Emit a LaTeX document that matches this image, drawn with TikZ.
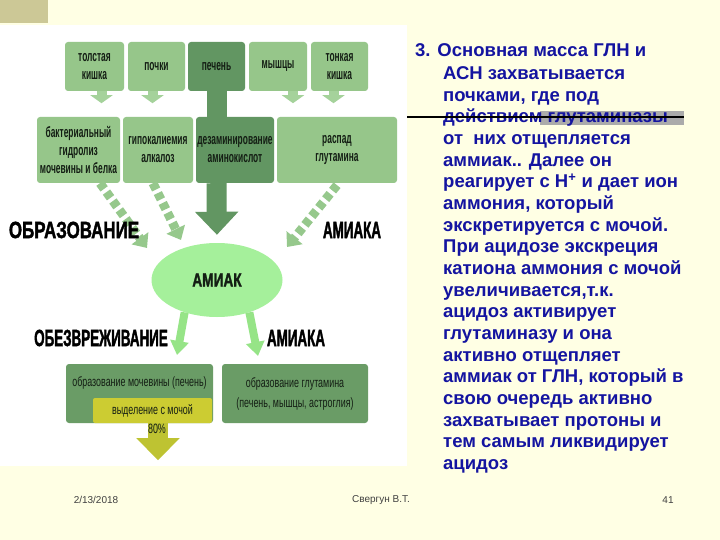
\documentclass[tikz,border=0pt]{standalone}
\usepackage{fontspec}
\setmainfont{Liberation Sans}
\newfontfamily\boxfont[FakeStretch=0.56]{Liberation Sans Bold}
\newfontfamily\lowfont[FakeStretch=0.66]{Liberation Sans}
\newfontfamily\headfont[FakeStretch=0.72,FakeBold=1.5]{Liberation Sans Bold}
\newfontfamily\headnarrow[FakeStretch=0.57,FakeBold=1.5]{Liberation Sans Bold}
\usetikzlibrary{arrows.meta,shapes.geometric}
\definecolor{slidebg}{RGB}{255,255,228}
\definecolor{tanc}{RGB}{204,200,150}
\definecolor{lightgrn}{RGB}{150,198,138}
\definecolor{darkgrn}{RGB}{98,150,98}
\definecolor{lowgrn}{RGB}{106,156,102}
\definecolor{arrgrn}{RGB}{165,210,155}
\definecolor{ellgrn}{RGB}{165,240,155}
\definecolor{downgrn}{RGB}{150,228,135}
\definecolor{stripegrn}{RGB}{150,200,140}
\definecolor{ybox}{RGB}{204,204,50}
\definecolor{yarr}{RGB}{190,195,50}
\definecolor{boxtext}{RGB}{20,30,20}
\definecolor{slideblue}{RGB}{20,20,160}
\tikzset{
  srcbox/.style={fill=lightgrn, rounded corners=3pt, align=center, inner sep=1pt,
    font=\boxfont\fontsize{15}{18}\selectfont, text=boxtext},
  toprow/.style={srcbox, minimum height=49pt},
  midrow/.style={srcbox, minimum height=66pt},
  lowbox/.style={srcbox, fill=lowgrn, minimum height=59pt, font=\lowfont\fontsize{13.5}{20}\selectfont},
  heading/.style={font=\headfont\fontsize{23.5}{28}\selectfont, text=black, inner sep=0pt},
  narrowhead/.style={heading, font=\headnarrow\fontsize{23.5}{28}\selectfont},
  smallarr/.style={arrgrn, line width=10pt, -{Triangle[width=22pt,length=8pt]}},
  stripearr/.style={stripegrn, line width=9pt, dash pattern=on 7pt off 4pt, -{Triangle[width=20pt,length=12pt]}},
  downarr/.style={downgrn, line width=8pt, -{Triangle[width=18pt,length=14pt]}},
  bigarr/.style={darkgrn, line width=20pt, -{Triangle[width=42pt,length=23pt]}},
  slideline/.style={anchor=base west, inner sep=0pt, text=slideblue,
    font=\bfseries\fontsize{18.5}{22}\selectfont},
  footer/.style={font=\fontsize{10}{12}\selectfont, text=black!75}
}
\begin{document}
\begin{tikzpicture}[x=1pt, y=-1pt]
  \useasboundingbox (0,0) rectangle (720,540);
  % slide background
  \fill[slidebg] (0,0) rectangle (720,540);
  \fill[tanc] (0,0) rectangle (48,23);
  \fill[white] (0,25) rectangle (407,466);

  % sources
  \node[toprow, minimum width=59pt] (t1) at (94.5,66.5) {толстая\\кишка};
  \node[toprow, minimum width=57pt] (t2) at (156.5,66.5) {почки};
  \node[toprow, minimum width=57pt, fill=darkgrn] (t3) at (216.5,66.5) {печень};
  \node[toprow, minimum width=58pt] (t4) at (278,66.5) {мышцы};
  \node[toprow, minimum width=57pt] (t5) at (339.5,66.5) {тонкая\\кишка};

  % processes
  \node[midrow, minimum width=83pt] (m1) at (78.5,150) {бактериальный\\гидролиз\\мочевины и белка};
  \node[midrow, minimum width=70pt] (m2) at (158,150) {гипокалиемия\\алкалоз};
  \node[midrow, minimum width=78pt, fill=darkgrn] (m3) at (235,150) {дезаминирование\\аминокислот};
  \node[midrow, minimum width=120pt] (m4) at (337,150) {распад\\глутамина};

  % arrows from sources
  \draw[smallarr] ([xshift=7pt]t1.south) -- ++(0,12);
  \draw[smallarr] ([xshift=-4pt]t2.south) -- ++(0,12);
  \draw[smallarr] ([xshift=15pt]t4.south) -- ++(0,12);
  \draw[smallarr] ([xshift=-6pt]t5.south) -- ++(0,12);
  \draw[darkgrn, line width=20pt] (t3.south) -- (t3.south |- m3.north);

  % ammonia
  \node[ellipse, fill=ellgrn, minimum width=131pt, minimum height=74pt, inner sep=0pt,
    font=\headfont\fontsize{19}{22}\selectfont, text=boxtext] (amiak) at (217,280) {АМИАК};

  \coordinate (e1) at (147,248);
  \coordinate (e2) at (181,240);
  \coordinate (e3) at (287,247);
  \draw[stripearr] ([xshift=21.5pt]m1.south) -- (e1);
  \draw[stripearr] ([xshift=-5pt]m2.south) -- (e2);
  \draw[stripearr] ([yshift=-2pt]m4.south) -- (e3);
  \draw[bigarr, shorten >=8pt] (m3.south -| t3.south) -- (amiak.north);

  \node[heading] (obr) at (74,230) {ОБРАЗОВАНИЕ};
  \node[narrowhead] (amk1) at (352,230) {АМИАКА};
  \node[narrowhead] (obz) at (101,338) {ОБЕЗВРЕЖИВАНИЕ};
  \node[narrowhead] (amk2) at (296,338) {АМИАКА};

  % detoxification
  \coordinate (d1) at (177,355);
  \coordinate (d2) at (258,356);
  \draw[downarr] (amiak.225) -- (d1);
  \draw[downarr] (amiak.-45) -- (d2);

  \node[lowbox, minimum width=147pt] (b1) at (139.5,393.5) {};
  \node[lowbox, fill=none, minimum height=0pt, minimum width=0pt] (b1t) at (139.5,383) {образование мочевины (печень)};
  \node[lowbox, minimum width=146pt] (b2) at (295,393.5) {образование глутамина\\(печень, мышцы, астроглия)};
  \node[lowbox, fill=ybox, rounded corners=2pt, minimum width=119pt, minimum height=25pt] (yb) at (152.5,410.5) {выделение с мочой};
  \draw[yarr, line width=20pt, -{Triangle[width=42pt,length=22pt]}] ([xshift=5.5pt]yb.south) -- ++(0,37);
  \node[lowbox, fill=none, minimum height=0pt, minimum width=0pt] (pct) at (157,429) {80\%};

  % slide text
  \fill[black!33] (540,111) rectangle (684,125);
  \node[slideline] (l0) at (415,56.5) {3. Основная масса ГЛН и};
  \foreach \t [count=\i] in {АСН захватывается, {почками, где под}, действием глутаминазы,
      от\ \ них отщепляется, аммиак.. Далее он, реагирует с Н\textsuperscript{+} и дает ион,
      {аммония, который}, экскретируется с мочой., При ацидозе экскреция,
      катиона аммония с мочой, {увеличивается,т.к.}, ацидоз активирует,
      глутаминазу и она, активно отщепляет, {аммиак от ГЛН, который в},
      свою очередь активно, захватывает протоны и, тем самым ликвидирует, ацидоз} {
    \node[slideline] (l\i) at (443,{79.5+21.67*(\i-1)}) {\t};
  }
  \draw[black, line width=1.6pt] (407,117) -- (684,117);

  % footer
  \node[footer] (date) at (96,500) {2/13/2018};
  \node[footer] (auth) at (381,500) {Свергун В.Т.};
  \node[footer] (page) at (668,500) {41};
\end{tikzpicture}
\end{document}
